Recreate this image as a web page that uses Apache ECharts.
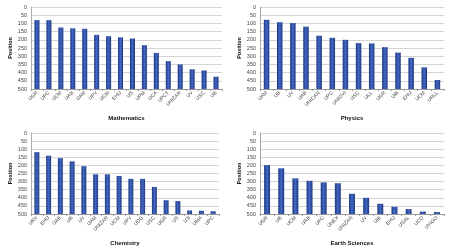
<!DOCTYPE html>
<html>
<head>
<meta charset="utf-8">
<script src="https://cdn.jsdelivr.net/npm/echarts@6/dist/echarts.min.js"></script>
<style>
  html, body { margin: 0; padding: 0; background: #fff; }
  #chart { width: 450px; height: 252px; }
</style>
</head>
<body>
<div id="chart"></div>
<script>
// position ticks (inverted axis, bars rise from the bottom)
const yTicks = [0, 50, 100, 150, 200, 250, 300, 350, 400, 450, 500]

const mathCats = ['UGR', 'UPC', 'UCM', 'UAB', 'UAM', 'UPV', 'UCIII', 'EHU', 'US', 'UPM', 'UCA', 'UPCT', 'UNIZAR', 'UV', 'USC', 'UB']
const mathVals = [80, 80, 125, 130, 133, 170, 178, 185, 192, 233, 280, 330, 350, 380, 387, 425]

const physCats = ['UAM', 'UB', 'UV', 'UAB', 'UNICAN', 'UPC', 'UNIOVI', 'USC', 'ULL', 'UGR', 'UIB', 'EHU', 'UCM', 'URLL']
const physVals = [78, 93, 98, 120, 175, 188, 200, 220, 222, 245, 278, 310, 368, 445]

const chemCats = ['URV', 'EHU', 'UAB', 'UB', 'UV', 'UAM', 'UNIZAR', 'UCM', 'UPV', 'UDG', 'USC', 'UGR', 'US', 'UJI', 'UMA', 'UPC']
const chemVals = [118, 140, 155, 175, 205, 255, 255, 265, 283, 283, 333, 415, 420, 478, 480, 483]

const earthCats = ['UGR', 'UB', 'UCM', 'UAB', 'UPC', 'UNEX', 'UNIZAR', 'UV', 'UIB', 'EHU', 'USAL', 'UCO', 'UVIGO']
const earthVals = [198, 218, 280, 295, 305, 310, 375, 400, 437, 455, 470, 485, 488]

const panels = [
  { title: 'Mathematics', cats: mathCats, vals: mathVals, grid: { left: 31, top: 7, width: 191, height: 82 } },
  { title: 'Physics', cats: physCats, vals: physVals, grid: { left: 260, top: 7, width: 184, height: 82 } },
  { title: 'Chemistry', cats: chemCats, vals: chemVals, grid: { left: 31, top: 133, width: 188, height: 81 } },
  { title: 'Earth Sciences', cats: earthCats, vals: earthVals, grid: { left: 260, top: 133, width: 184, height: 81 } },
]

const yMax = yTicks[yTicks.length - 1]

// excel-like shaded bar
const barColor = new echarts.graphic.LinearGradient(0, 0, 1, 0, [
  { offset: 0, color: '#1c3882' },
  { offset: 0.5, color: '#4467c2' },
  { offset: 1, color: '#1c3882' },
])

// bar from the value down to the bottom of the axis
function renderBar(params, api) {
  const top = api.coord([api.value(0), api.value(1)])
  const bottom = api.coord([api.value(0), yMax])
  const w = api.size([1, 0])[0] * 0.42
  return {
    type: 'rect',
    shape: { x: top[0] - w / 2, y: top[1], width: w, height: bottom[1] - top[1] },
    style: { fill: barColor },
  }
}

const chart = echarts.init(document.getElementById('chart'))
chart.setOption({
  animation: false,
  grid: panels.map(p => p.grid),
  xAxis: panels.map((p, i) => ({
    type: 'category',
    gridIndex: i,
    data: p.cats,
    name: p.title,
    nameLocation: 'middle',
    nameGap: 26,
    nameTextStyle: { fontFamily: 'Liberation Sans', fontSize: 6, fontWeight: 'bold', color: '#111' },
    axisLine: { show: true, onZero: false, lineStyle: { color: '#999' } },
    axisTick: { show: true, length: 2, lineStyle: { color: '#999' } },
    axisLabel: { rotate: 45, fontFamily: 'Liberation Sans', fontSize: 5, color: '#444', margin: 3, interval: 0 },
  })),
  yAxis: panels.map((p, i) => ({
    type: 'value',
    gridIndex: i,
    inverse: true,
    min: yTicks[0],
    max: yMax,
    interval: 50,
    name: 'Position',
    nameLocation: 'middle',
    nameGap: 17,
    nameTextStyle: { fontFamily: 'Liberation Sans', fontSize: 5.5, fontWeight: 'bold', color: '#111' },
    axisLine: { show: true, lineStyle: { color: '#aaa' } },
    axisTick: { show: false },
    axisLabel: { fontFamily: 'Liberation Sans', fontSize: 5.5, color: '#444', margin: 4 },
    splitLine: { lineStyle: { color: '#d4d4d4', width: 1 } },
  })),
  series: panels.map((p, i) => ({
    type: 'custom',
    xAxisIndex: i,
    yAxisIndex: i,
    renderItem: renderBar,
    encode: { x: 0, y: 1 },
    data: p.vals.map((v, j) => [j, v]),
  })),
})
</script>
</body>
</html>
